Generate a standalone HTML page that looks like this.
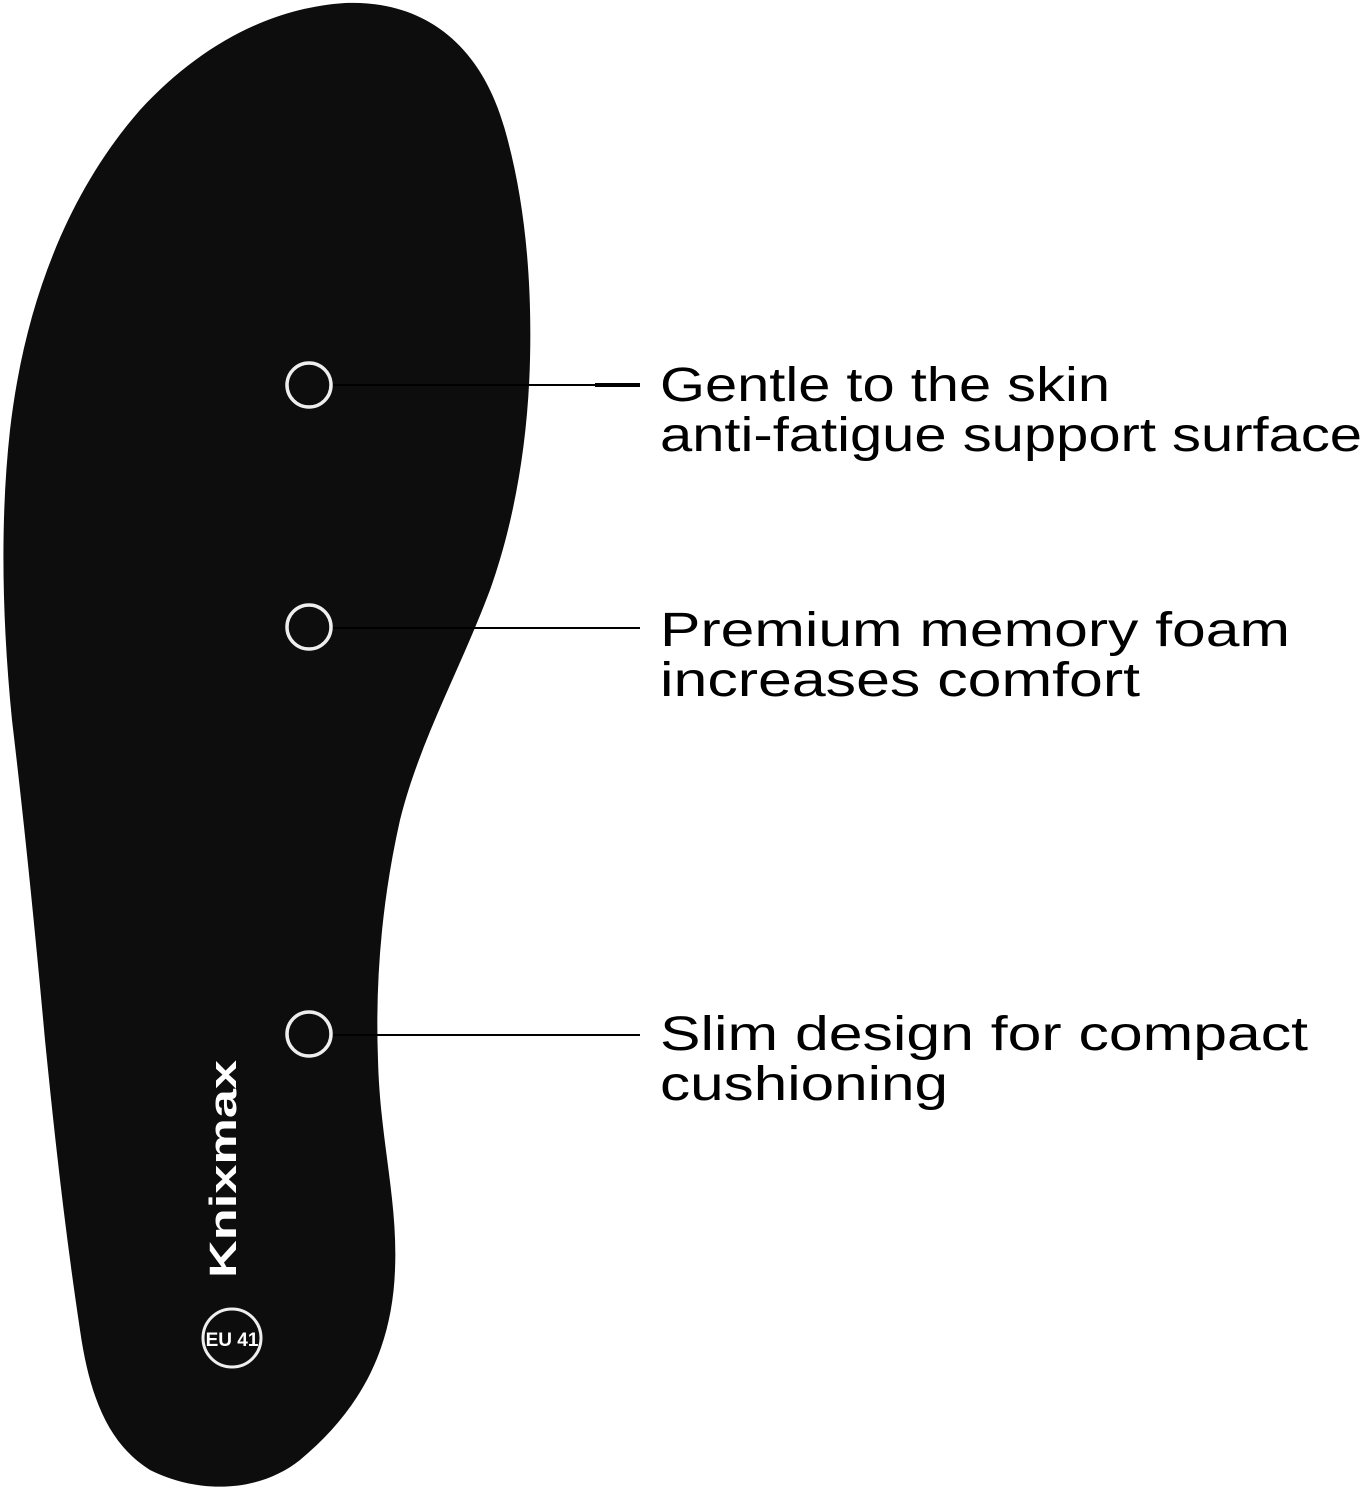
<!DOCTYPE html>
<html><head><meta charset="utf-8"><style>html,body{margin:0;padding:0;background:#fff}svg{display:block}</style></head>
<body>
<svg width="1366" height="1500" viewBox="0 0 1366 1500" xmlns="http://www.w3.org/2000/svg">
<path d="M345,3 C420,0 480,40 505,130 C525,200 532,280 530,360 C528,440 515,520 490,590 C460,670 420,740 400,820 C382,900 375,980 378,1060 C380,1140 398,1200 395,1270 C392,1350 360,1410 300,1460 C260,1492 200,1495 150,1470 C110,1445 90,1400 80,1330 C65,1230 55,1140 45,1040 C35,930 25,830 12,720 C2,620 0,520 10,430 C25,300 70,190 140,110 C200,45 270,8 345,3 Z" fill="#0d0d0d"/>
<g fill="none" stroke="#eee" stroke-width="3.5">
<circle cx="309" cy="385" r="22"/>
<circle cx="309" cy="627" r="22"/>
<circle cx="309" cy="1034" r="22"/>
<circle cx="232" cy="1338" r="29" stroke-width="3"/>
</g>
<g stroke="#000" stroke-width="2">
<line x1="333" y1="385" x2="640" y2="385"/>
<line x1="595" y1="385" x2="640" y2="385" stroke-width="4"/>
<line x1="333" y1="628" x2="640" y2="628"/>
<line x1="333" y1="1035" x2="640" y2="1035"/>
</g>
<g font-family="Liberation Sans, sans-serif" font-size="48" fill="#000">
<text x="660" y="401" textLength="450" lengthAdjust="spacingAndGlyphs">Gentle to the skin</text>
<text x="660" y="451" textLength="702" lengthAdjust="spacingAndGlyphs">anti-fatigue support surface</text>
<text x="660" y="646" textLength="630" lengthAdjust="spacingAndGlyphs">Premium memory foam</text>
<text x="660" y="696" textLength="480" lengthAdjust="spacingAndGlyphs">increases comfort</text>
<text x="660" y="1050" textLength="648" lengthAdjust="spacingAndGlyphs">Slim design for compact</text>
<text x="660" y="1100" textLength="288" lengthAdjust="spacingAndGlyphs">cushioning</text>
</g>
<text transform="translate(236,1278) rotate(-90)" font-family="Liberation Sans, sans-serif" font-weight="bold" font-size="38" fill="#fff" textLength="218" lengthAdjust="spacingAndGlyphs">Knixmax</text>
<text x="232" y="1346" text-anchor="middle" font-family="Liberation Sans, sans-serif" font-weight="bold" font-size="19" fill="#fff">EU 41</text>
</svg>
</body></html>
